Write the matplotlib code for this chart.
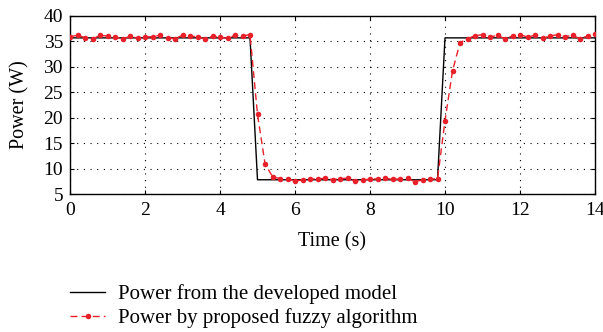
import numpy as np
import matplotlib
matplotlib.use("Agg")
import matplotlib.pyplot as plt

plt.rcParams['font.family'] = ['Liberation Serif', 'DejaVu Serif']
plt.rcParams['mathtext.fontset'] = 'stix'

# Developed model (piecewise)
model_t = [0.0, 4.8, 5.0, 9.8, 10.0, 14.0]
model_p = [35.7, 35.7, 7.8, 7.8, 35.7, 35.7]

# Fuzzy algorithm samples every 0.2 s
fuzzy_t = [round(0.2 * i, 1) for i in range(71)]
fuzzy_p = [35.94, 36.2, 35.74, 35.48, 36.2, 36.07, 35.94, 35.48, 36.0, 35.67,
           35.87, 35.94, 36.2, 35.74, 35.54, 36.2, 36.0, 35.94, 35.48, 36.0,
           35.87, 35.6, 36.2, 36.07, 36.33,
           20.67, 10.97, 8.41, 8.02, 8.02, 7.56,
           7.76, 7.96, 7.96, 8.09, 7.83, 8.02, 8.09, 7.56, 7.69, 7.96,
           7.96, 8.09, 7.89, 7.96, 8.09, 7.43, 7.76, 7.96, 7.96,
           19.42, 29.19, 34.76, 35.54, 36.13, 36.33, 35.87, 36.2, 35.54, 36.07,
           36.33, 35.87, 36.2, 35.6, 36.07, 36.33, 35.94, 36.2, 35.54, 36.07, 36.4]

xticks = [0, 2, 4, 6, 8, 10, 12, 14]
yticks = [5, 10, 15, 20, 25, 30, 35, 40]

fig = plt.figure(figsize=(6.03, 3.32), dpi=100)
ax = fig.add_axes([70/603, 1-194/332, (595-70)/603, (194-16)/332])

red = '#e8202a'
ax.plot(model_t, model_p, color='black', lw=1.0, label='Power from the developed model', zorder=3)
ax.plot(fuzzy_t, fuzzy_p, color=red, lw=1.0, ls=(0, (5, 3)), marker='o', ms=4,
        markeredgewidth=0, label='Power by proposed fuzzy algorithm', zorder=4)

ax.set_xlim(0, 14)
ax.set_ylim(5, 40)
ax.set_xticks(xticks)
ax.set_yticks(yticks)
ax.tick_params(direction='in', top=True, right=True, labelsize=14, length=3, width=0.8)
ax.tick_params(axis='x', pad=6)
ax.tick_params(axis='y', pad=5)
ax.grid(True, color='black', ls=(0, (1, 5)), lw=0.8)
for s in ax.spines.values():
    s.set_linewidth(1.0)
ax.set_xlabel('Time (s)', fontsize=14.5, labelpad=9)
ax.set_ylabel('Power (W)', fontsize=14.5, labelpad=10)

h, l = ax.get_legend_handles_labels()
fig.legend(h, l, loc='upper left', bbox_to_anchor=(70/603, 1-284/332), frameon=False,
           fontsize=15, handlelength=1.7, handletextpad=0.62, labelspacing=0.22,
           numpoints=1, borderaxespad=0, borderpad=0)

fig.savefig('out.png', dpi=100)
